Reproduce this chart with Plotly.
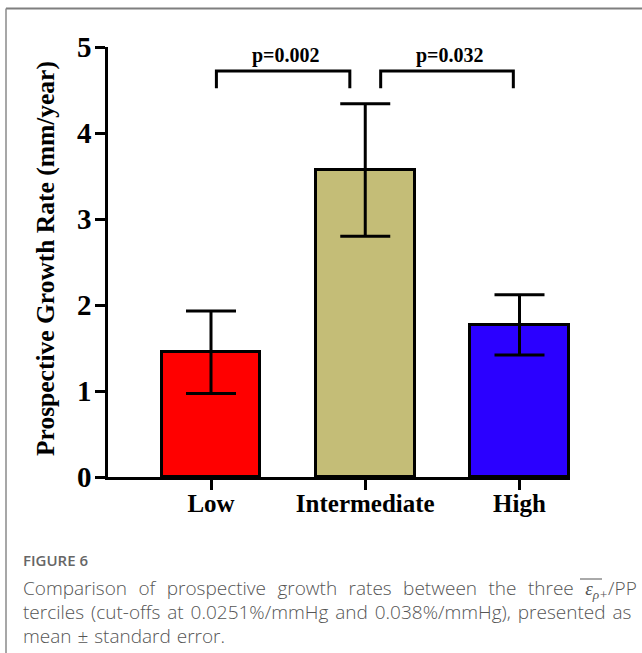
import plotly.graph_objects as go

# ---- data ----
categories = ["Low", "Intermediate", "High"]
means = [1.45, 3.57, 1.77]
sem = [0.48, 0.77, 0.35]
bar_colors = ["#FF0000", "#C4BD77", "#2B00FF"]
y_ticks = [0, 1, 2, 3, 4, 5]
comparisons = [(0, 1, "p=0.002"), (1, 2, "p=0.032")]
y_title = "Prospective Growth Rate (mm/year)"
caption_head = "FIGURE 6"
eps_html = ("<span style=\"font-family:'Liberation Serif';font-style:italic\">"
            "ε<sub>ρ+</sub></span>")
caption_lines = [
    "Comparison of prospective growth rates between the three " + eps_html + "/PP",
    "terciles (cut-offs at 0.0251%/mmHg and 0.038%/mmHg), presented as",
    "mean ± standard error.",
]
caption_word_spacing = [6.5, 2, 1]

W, H = 642, 653
L, R, T, B = 108, 570, 47, 477  # plot area in pixels


def px_x(px):
    return (px - L) / (R - L)


def px_y(py):
    return (B - py) / (B - T)


SERIF = "Liberation Serif"

fig = go.Figure()
fig.add_trace(go.Bar(
    x=list(range(len(categories))),
    y=means,
    width=0.64,
    marker=dict(color=bar_colors, line=dict(color="black", width=3)),
    error_y=dict(type="data", array=sem, visible=True, color="black",
                 thickness=3, width=25),
    showlegend=False,
))

shapes = []
annotations = []
# significance brackets
for i, j, label in comparisons:
    x0 = i + (0.1 if i == 1 else 0.035)
    x1 = j - (0.1 if j == 1 else 0.04)
    shapes.append(dict(type="path", xref="x", yref="y",
                       path=f"M {x0},4.52 L {x0},4.72 L {x1},4.72 L {x1},4.52",
                       line=dict(color="black", width=3)))
    annotations.append(dict(x=(x0 + x1) / 2 + 0.02, y=4.9, xref="x", yref="y",
                            text=label, showarrow=False,
                            font=dict(family=SERIF, size=20, color="black", weight="bold"),
                            xanchor="center", yanchor="middle"))

# y-axis title
annotations.append(dict(x=px_x(45), y=px_y(259), xref="paper", yref="paper",
                        text=y_title, textangle=-90, showarrow=False,
                        font=dict(family=SERIF, size=25.5, color="black", weight="bold"),
                        xanchor="center", yanchor="middle"))

# caption
annotations.append(dict(x=px_x(21), y=px_y(560), xref="paper", yref="paper",
                        text=caption_head, showarrow=False,
                        font=dict(family="Open Sans", size=15, color="#666666", weight=600),
                        xanchor="left", yanchor="middle"))
for k, line in enumerate(caption_lines):
    txt = f'<span style="word-spacing:{caption_word_spacing[k]}px">{line}</span>'
    annotations.append(dict(x=px_x(21), y=px_y(588 + 24 * k), xref="paper", yref="paper",
                            text=txt, showarrow=False,
                            font=dict(family="Open Sans", size=19, color="#555555", weight=300),
                            xanchor="left", yanchor="middle"))

# overline on the epsilon symbol in the caption
shapes.append(dict(type="line", xref="paper", yref="paper",
                   x0=px_x(580), x1=px_x(602), y0=px_y(579), y1=px_y(579),
                   line=dict(color="#555555", width=1)))

# outer border (top and left)
shapes.append(dict(type="line", xref="paper", yref="paper",
                   x0=px_x(6), x1=px_x(700), y0=px_y(8.5), y1=px_y(8.5),
                   line=dict(color="#7f7f7f", width=2)))
shapes.append(dict(type="line", xref="paper", yref="paper",
                   x0=px_x(6), x1=px_x(6), y0=px_y(8.5), y1=px_y(700),
                   line=dict(color="#8a8a8a", width=1.5)))

fig.update_layout(
    width=W, height=H,
    margin=dict(l=L, r=W - R, t=T, b=H - B, pad=0),
    paper_bgcolor="white", plot_bgcolor="white",
    shapes=shapes, annotations=annotations,
    bargap=0,
    xaxis=dict(
        range=[(L - 211) / 154.25, 2 + (R - 519.5) / 154.25],
        tickmode="array", tickvals=list(range(len(categories))), ticktext=categories,
        showline=True, linecolor="black", linewidth=2.5,
        ticks="outside", ticklen=10, tickwidth=2.5, tickcolor="black",
        ticklabelstandoff=-8,
        tickfont=dict(family=SERIF, size=25, color="black", weight="bold"),
        showgrid=False, zeroline=False, fixedrange=True,
    ),
    yaxis=dict(
        range=[0, 5],
        tickmode="array", tickvals=y_ticks,
        showline=True, linecolor="black", linewidth=2.5,
        ticks="outside", ticklen=10, tickwidth=2.5, tickcolor="black",
        ticklabelstandoff=-2,
        tickfont=dict(family=SERIF, size=29, color="black", weight="bold"),
        showgrid=False, zeroline=False, fixedrange=True,
    ),
)

fig.write_html("out.html", config={"displayModeBar": False},
               post_script="document.body.style.margin='0';")
